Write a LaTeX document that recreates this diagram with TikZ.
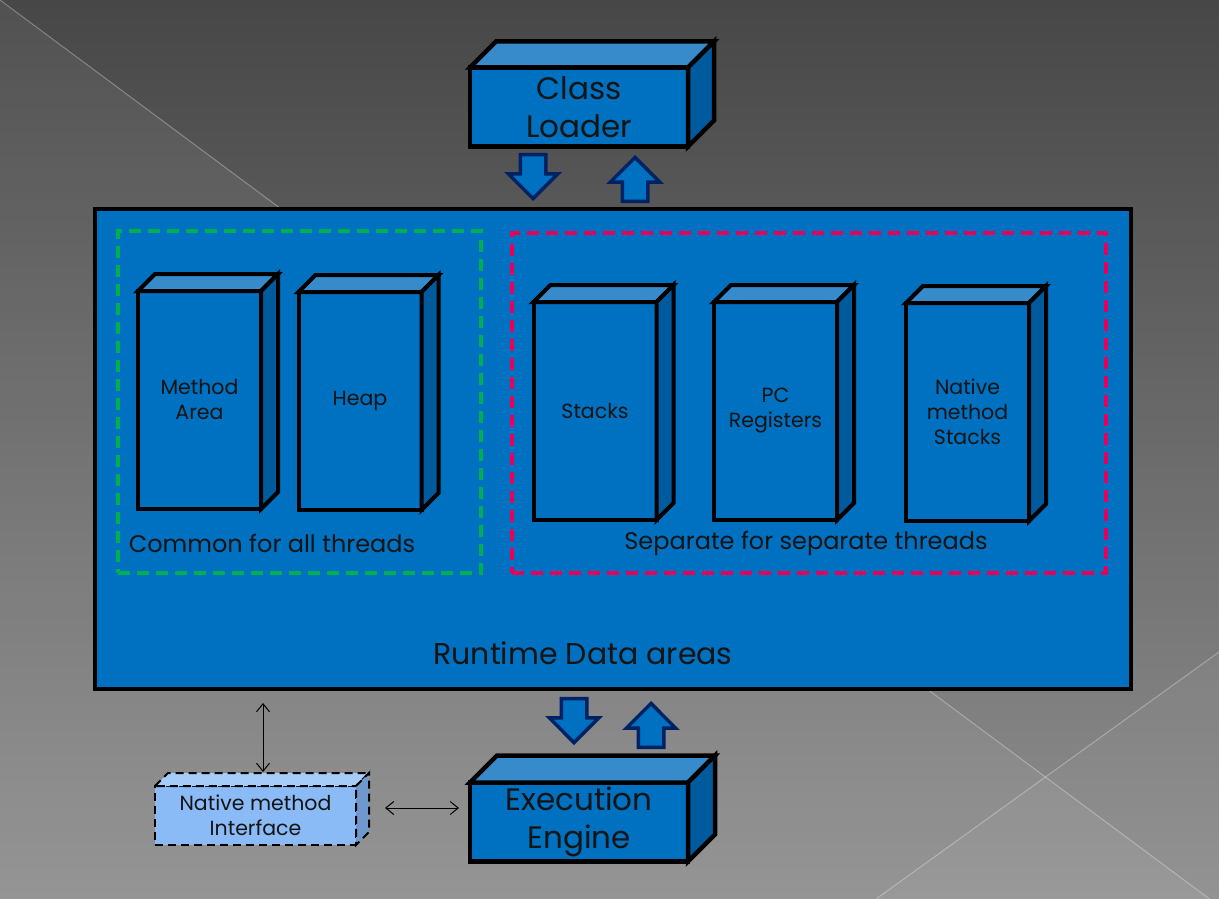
\documentclass[tikz,border=0pt]{standalone}
\usepackage{fontspec}
\setmainfont{Poppins}
\usetikzlibrary{arrows.meta, shapes.arrows}
\definecolor{rdablue}{HTML}{0070C0}
\definecolor{cubetop}{HTML}{378BCB}
\definecolor{cubeside}{HTML}{005A9E}
\definecolor{nmifill}{HTML}{8BBBF7}
\definecolor{nmitop}{HTML}{A6CCFA}
\definecolor{nmiside}{HTML}{6F99CE}
\definecolor{arrowrim}{HTML}{002263}
\definecolor{commongreen}{HTML}{00B050}
\definecolor{separatered}{HTML}{E6005C}
\definecolor{bgtop}{HTML}{474747}
\definecolor{bgbottom}{HTML}{8F8F8F}
\definecolor{inktext}{HTML}{141414}

% top and side faces of a box drawn on a named front node
\newcommand{\cubefaces}[4]{%
  \path[#3] (#1.north west) -- ++(#2,-#2) -- ([shift={(#2,-#2)}]#1.north east)
    -- (#1.north east) -- cycle;
  \path[#4] (#1.north east) -- ([shift={(#2,-#2)}]#1.north east)
    -- ([shift={(#2,-#2)}]#1.south east) -- (#1.south east) -- cycle;
}

\begin{document}
\begin{tikzpicture}[x=1pt, y=-1pt,
  every node/.style={text=inktext},
  cube/.style={draw, line width=4pt, fill=rdablue, outer sep=0pt, inner sep=0pt,
               align=center, font=\fontsize{20.5}{25}\selectfont},
  tall/.style={cube, minimum width=123pt, minimum height=218pt},
  bigcube/.style={cube, line width=4.5pt, minimum width=218pt, minimum height=79pt,
                  font=\fontsize{31}{38}\selectfont},
  nmibox/.style={cube, line width=2pt, dash pattern=on 8pt off 5pt, fill=nmifill,
                 minimum width=201pt, minimum height=59pt},
  bluetop/.style={draw, line width=4pt, fill=cubetop},
  blueside/.style={draw, line width=4pt, fill=cubeside},
  bigtop/.style={draw, line width=4.5pt, fill=cubetop},
  bigside/.style={draw, line width=4.5pt, fill=cubeside},
  nmitopface/.style={draw, line width=2pt, dash pattern=on 8pt off 5pt, fill=nmitop},
  nmisideface/.style={draw, line width=2pt, dash pattern=on 8pt off 5pt, fill=nmiside},
  group/.style={draw, line width=4pt, dash pattern=on 12pt off 7pt, outer sep=0pt},
  grouplabel/.style={font=\fontsize{24}{28}\selectfont},
  blockarrow/.style={single arrow, draw=arrowrim, fill=rdablue, line width=3.5pt,
                     inner sep=11pt, single arrow head extend=12pt,
                     minimum height=44pt, anchor=tip},
  dblarr/.style={{Straight Barb[length=8pt,width=13pt]}-{Straight Barb[length=8pt,width=13pt]},
                 line width=1pt}
]
  \useasboundingbox (0,0) rectangle (1219,899);
  \clip (0,0) rectangle (1219,899);
  \fill[top color=bgtop, bottom color=bgbottom] (0,0) rectangle (1219,899);
  \fill[white, opacity=0.06] (0,0) -- (1219,906) -- (0,906) -- cycle;
  \fill[white, opacity=0.04] (876,899) -- (1219,652) -- (1219,899) -- cycle;
  \draw[white, opacity=0.3, line width=1pt] (0,0) -- (1219,906);
  \draw[white, opacity=0.3, line width=1pt] (876,899) -- (1219,652);

  \node[draw, line width=4pt, fill=rdablue, outer sep=0pt,
        minimum width=1036pt, minimum height=480pt] (rda) at (613,449) {};
  \node[group, draw=commongreen, minimum width=363pt, minimum height=342pt] (common) at (299.5,402) {};
  \node[group, draw=separatered, minimum width=594pt, minimum height=340pt] (separate) at (809,402.5) {};

  \node[tall] (ma) at (199.5,400) {Method\\Area};
  \node[tall] (heap) at (360,401) {Heap};
  \node[tall] (stacks) at (595,411) {Stacks};
  \node[tall] (pcreg) at (775.5,411) {PC\\Registers};
  \node[tall] (nms) at (967.5,412) {Native\\method\\Stacks};
  \cubefaces{ma}{17}{bluetop}{blueside}
  \cubefaces{heap}{17}{bluetop}{blueside}
  \cubefaces{stacks}{17}{bluetop}{blueside}
  \cubefaces{pcreg}{17}{bluetop}{blueside}
  \cubefaces{nms}{17}{bluetop}{blueside}

  \node[grouplabel] (commonlbl) at (272,543) {Common for all threads};
  \node[grouplabel] (separatelbl) at (806,543) {Separate for separate threads};
  \node[font=\fontsize{30}{36}\selectfont] (rdalbl) at (583,653) {Runtime Data areas};

  \node[bigcube] (cl) at (579,107) {Class\\Loader};
  \cubefaces{cl}{26}{bigtop}{bigside}
  \node[bigcube] (ee) at (579,822) {Execution\\Engine};
  \cubefaces{ee}{27}{bigtop}{bigside}
  \node[nmibox] (nmi) at (255.5,815.5) {Native method\\Interface};
  \cubefaces{nmi}{13}{nmitopface}{nmisideface}

  \node[blockarrow, rotate=-90] (cldown) at (533,201) {};
  \node[blockarrow, rotate=90] (clup) at (635,155) {};
  \node[blockarrow, rotate=-90] (eedown) at (574,745) {};
  \node[blockarrow, rotate=90] (eeup) at (651,701) {};

  \coordinate (vtop) at (263,703);
  \path (vtop |- nmi.north) ++(0,-14) coordinate (vbot);
  \coordinate (hleft) at (385,808);
  \draw[dblarr] (vtop) -- (vbot);
  \draw[dblarr, shorten >=11pt] (hleft) -- (hleft -| ee.west);
\end{tikzpicture}
\end{document}
